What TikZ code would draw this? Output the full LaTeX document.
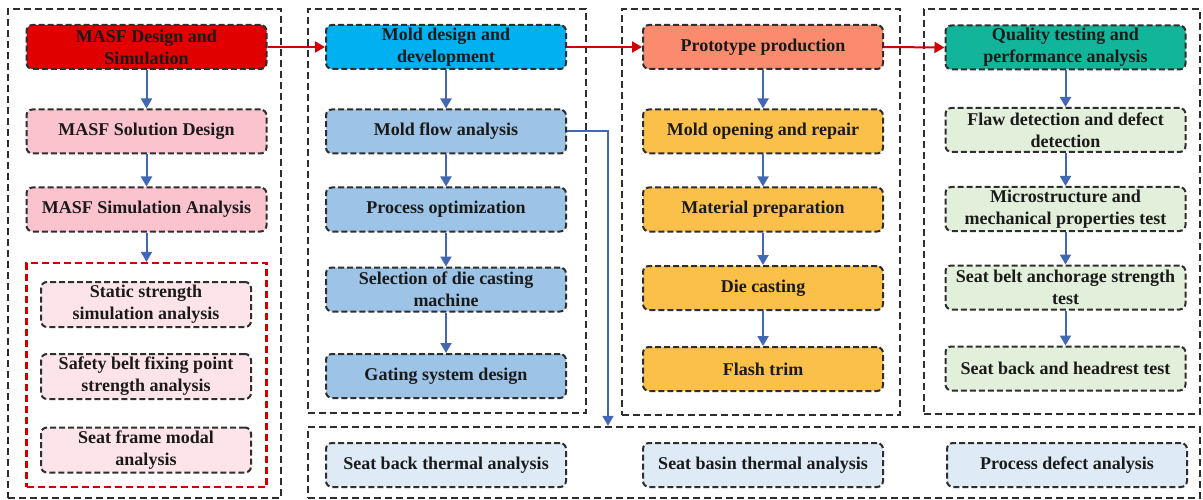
\documentclass[tikz,border=0pt]{standalone}
\usepackage{fontspec}
\setmainfont{Liberation Serif}
\usetikzlibrary{arrows.meta,calc}
\definecolor{cred}{HTML}{E00000}
\definecolor{cpink}{HTML}{FAC3CD}
\definecolor{clpink}{HTML}{FCE4EA}
\definecolor{ccyan}{HTML}{00B0F0}
\definecolor{cmblue}{HTML}{9DC3E6}
\definecolor{clblue}{HTML}{DEEBF7}
\definecolor{csalmon}{HTML}{FB8B6E}
\definecolor{corange}{HTML}{FBC04A}
\definecolor{cteal}{HTML}{12B59A}
\definecolor{clgreen}{HTML}{E2EFDA}
\definecolor{carrowb}{HTML}{4268B4}
\definecolor{carrowr}{HTML}{D00000}
\definecolor{ctext}{HTML}{1A1A1A}
\definecolor{cdash}{HTML}{2E2E2E}
\tikzset{
  stepbox/.style={draw=cdash, line width=2pt, dash pattern=on 6pt off 3pt,
    rounded corners=6pt, minimum width=240pt, minimum height=44pt,
    align=center, inner sep=2pt, text=ctext,
    font=\fontsize{18}{22}\selectfont\bfseries},
  innerbox/.style={stepbox, minimum width=210pt, minimum height=45pt},
  outerbox/.style={draw=cdash, line width=2.4pt, dash pattern=on 7pt off 4pt,
    inner sep=0pt},
  redouter/.style={draw=carrowr, line width=2.2pt, dash pattern=on 7pt off 4pt,
    inner sep=0pt},
  barrow/.style={draw=carrowb, line width=2pt, -{Triangle[width=11pt,length=10pt]}},
  rarrow/.style={draw=carrowr, line width=2pt, -{Triangle[width=11pt,length=10pt]}},
}
\begin{document}
\begin{tikzpicture}[x=1pt,y=-1pt]
\useasboundingbox[fill=white] (0,0) rectangle (1203,500);
% outer boxes
\node[outerbox, minimum width=273pt, minimum height=489pt] (c1) at (144.5,253.5) {};
\node[outerbox, minimum width=278pt, minimum height=404pt] (c2) at (447,211) {};
\node[outerbox, minimum width=278pt, minimum height=406pt] (c3) at (761,212) {};
\node[outerbox, minimum width=276pt, minimum height=405pt] (c4) at (1062,211.5) {};
\node[outerbox, minimum width=892pt, minimum height=71pt] (bot) at (754,462.5) {};
\node[redouter, minimum width=240pt, minimum height=224pt] (rb) at (146.5,375) {};
% column 1
\node[stepbox, fill=cred] (masf) at (146.5,47) {MASF Design and\\Simulation};
\node[stepbox, fill=cpink] (sol) at (146.5,131.5) {MASF Solution Design};
\node[stepbox, fill=cpink] (sim) at (146.5,209.5) {MASF Simulation Analysis};
\node[innerbox, fill=clpink] (stat) at (146,304.5) {Static strength\\simulation analysis};
\node[innerbox, fill=clpink] (belt) at (146,376.5) {Safety belt fixing point\\strength analysis};
\node[innerbox, fill=clpink] (modal) at (146,450) {Seat frame modal\\analysis};
% column 2
\node[stepbox, fill=ccyan] (mold) at (446,47) {Mold design and\\development};
\node[stepbox, fill=cmblue] (mflow) at (446,131.5) {Mold flow analysis};
\node[stepbox, fill=cmblue] (popt) at (446,209.5) {Process optimization};
\node[stepbox, fill=cmblue] (sel) at (446,289.5) {Selection of die casting\\machine};
\node[stepbox, fill=cmblue] (gate) at (446,376) {Gating system design};
% column 3
\node[stepbox, fill=csalmon] (proto) at (763,47) {Prototype production};
\node[stepbox, fill=corange] (mopen) at (763,131.5) {Mold opening and repair};
\node[stepbox, fill=corange] (mat) at (763,209.5) {Material preparation};
\node[stepbox, fill=corange] (die) at (763,288) {Die casting};
\node[stepbox, fill=corange] (flash) at (763,369) {Flash trim};
% column 4
\node[stepbox, fill=cteal] (qual) at (1065.5,47.5) {Quality testing and\\performance analysis};
\node[stepbox, fill=clgreen] (flaw) at (1065.5,130) {Flaw detection and defect\\detection};
\node[stepbox, fill=clgreen] (micro) at (1065.5,209) {Microstructure and\\mechanical properties test};
\node[stepbox, fill=clgreen] (anch) at (1065.5,287.5) {Seat belt anchorage strength\\test};
\node[stepbox, fill=clgreen] (head) at (1065.5,368.5) {Seat back and headrest test};
% bottom row
\node[stepbox, fill=clblue] (sbt) at (446,465) {Seat back thermal analysis};
\node[stepbox, fill=clblue] (sbs) at (763,465) {Seat basin thermal analysis};
\node[stepbox, fill=clblue] (pda) at (1067,465) {Process defect analysis};
% red arrows
\draw[rarrow] (masf.east) -- (mold.west);
\draw[rarrow] (mold.east) -- (proto.west);
\draw[rarrow] (proto.east) -- (qual.west);
% blue arrows col1
\draw[barrow] (masf.south) -- (sol.north);
\draw[barrow] (sol.south) -- (sim.north);
\draw[barrow] (sim.south) -- (rb.north);
% col2
\draw[barrow] (mold.south) -- (mflow.north);
\draw[barrow] (mflow.south) -- (popt.north);
\draw[barrow] (popt.south) -- (sel.north);
\draw[barrow] (sel.south) -- (gate.north);
\coordinate (turn) at (608,131.5);
\draw[barrow] (mflow.east) -- (turn) -- (turn |- bot.north);
% col3
\draw[barrow] (proto.south) -- (mopen.north);
\draw[barrow] (mopen.south) -- (mat.north);
\draw[barrow] (mat.south) -- (die.north);
\draw[barrow] (die.south) -- (flash.north);
% col4
\draw[barrow] (qual.south) -- (flaw.north);
\draw[barrow] (flaw.south) -- (micro.north);
\draw[barrow] (micro.south) -- (anch.north);
\draw[barrow] (anch.south) -- (head.north);
\end{tikzpicture}
\end{document}
